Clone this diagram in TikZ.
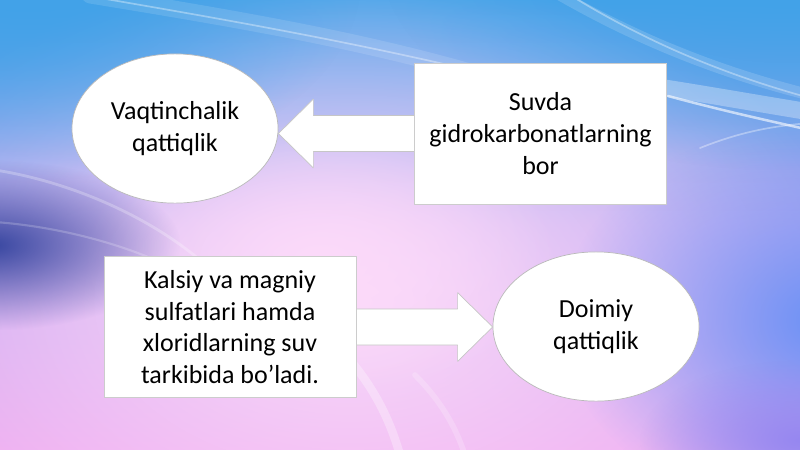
\documentclass[tikz,border=0pt]{standalone}
\usepackage{fontspec}
\setmainfont{Carlito}
\usetikzlibrary{calc,fadings,shapes.geometric}
\definecolor{bgtop}{RGB}{66,162,232}
\definecolor{bgmid}{RGB}{190,170,240}
\definecolor{bgbot}{RGB}{236,170,240}
\definecolor{glowpink}{RGB}{252,218,250}
\definecolor{leftblob}{RGB}{55,70,160}
\definecolor{rightblob}{RGB}{105,145,245}
\definecolor{violetblob}{RGB}{150,135,240}
\tikzfading[name=softglow,inner color=transparent!0,outer color=transparent!100]
\newcommand\blockarrow[2]{% #1 = tail, #2 = tip
  \draw[blockarr] ($(#1)!0.45cm!90:(#2)$) -- ($($(#2)!0.875cm!(#1)$)!0.45cm!-90:(#1)$)
    -- ($($(#2)!0.875cm!(#1)$)!0.86cm!-90:(#1)$) -- (#2)
    -- ($($(#2)!0.875cm!(#1)$)!0.86cm!90:(#1)$) -- ($($(#2)!0.875cm!(#1)$)!0.45cm!90:(#1)$)
    -- ($(#1)!0.45cm!-90:(#2)$) -- cycle;}

\begin{document}
\begin{tikzpicture}[x=0.025cm,y=-0.025cm,line join=round,
  txt/.style={align=center,font=\fontsize{18.5}{22.5}\selectfont},
  oval/.style={txt,ellipse,draw=gray!55,line width=0.5pt,fill=white,inner sep=0pt,minimum width=5.15cm,minimum height=3.73cm},
  box/.style={txt,rectangle,draw=gray!40,line width=0.5pt,fill=white,minimum width=6.3cm,minimum height=3.52cm},
  blockarr/.style={draw=gray!45,line width=0.5pt,fill=white},
  streak/.style={white,line cap=round,opacity=#1},streak/.default=0.5]
\useasboundingbox (0,0) rectangle (800,449);
% background
\begin{scope}
\clip (0,0) rectangle (800,449);
\fill[top color=bgtop,bottom color=bgbot,middle color=bgmid] (0,0) rectangle (800,449);
\fill[glowpink,path fading=softglow] (-160,-40) rectangle (860,640);
\fill[glowpink,path fading=softglow] (80,120) rectangle (560,400);
\fill[rightblob,path fading=softglow] (560,120) rectangle (1100,520);
\fill[violetblob,path fading=softglow] (640,360) rectangle (960,520);
\fill[leftblob,path fading=softglow] (-200,160) rectangle (180,330);
\fill[bgtop,path fading=softglow] (-300,-220) rectangle (360,180);
\fill[bgtop,path fading=softglow] (380,-260) rectangle (1200,170);
% light streaks
\draw[streak=0.12,line width=12pt] (90,-5) .. controls (230,18) and (350,38) .. (470,72);
\draw[streak=0.35,line width=1.2pt] (100,-2) .. controls (240,22) and (350,42) .. (470,70);
\draw[streak=0.15,line width=8pt] (560,-5) .. controls (630,35) and (710,70) .. (810,95);
\draw[streak=0.35,line width=1.2pt] (570,-5) .. controls (640,38) and (715,72) .. (810,98);
\draw[streak=0.3,line width=12pt] (665,88) .. controls (710,95) and (755,103) .. (810,112);
\draw[streak=0.6,line width=1.8pt] (668,96) .. controls (720,110) and (765,120) .. (810,130);
\draw[streak=0.35,line width=1.2pt] (700,148) .. controls (740,132) and (772,126) .. (810,123);
\draw[streak=0.25,line width=2pt] (-5,170) .. controls (60,180) and (140,210) .. (200,260);
\draw[streak=0.2,line width=1.5pt] (-5,222) .. controls (50,226) and (110,240) .. (160,262);
\draw[streak=0.3,line width=6pt] (350,360) .. controls (375,390) and (390,420) .. (400,455);
\draw[streak=0.2,line width=4pt] (415,375) .. controls (440,400) and (455,425) .. (465,455);
\end{scope}
% nodes
\node[oval] (temp) at (175,128.5) {Vaqtinchalik\\qattiqlik};
\node[oval] (perm) at (596,326.5) {Doimiy\\qattiqlik};
\coordinate (tailtemp) at (540,133.5);
\coordinate (tailperm) at (230,327);
\coordinate (tiptemp) at (temp.east |- tailtemp);
\coordinate (tipperm) at (perm.west |- tailperm);
\blockarrow{tailtemp}{tiptemp}
\blockarrow{tailperm}{tipperm}
\node[box] (bicarb) at (540.5,133.5) {Suvda\\gidrokarbonatlarning\\bor};
\node[box] (sulf) at (230,327) {Kalsiy va magniy\\sulfatlari hamda\\xloridlarning suv\\tarkibida bo’ladi.};
\end{tikzpicture}
\end{document}
